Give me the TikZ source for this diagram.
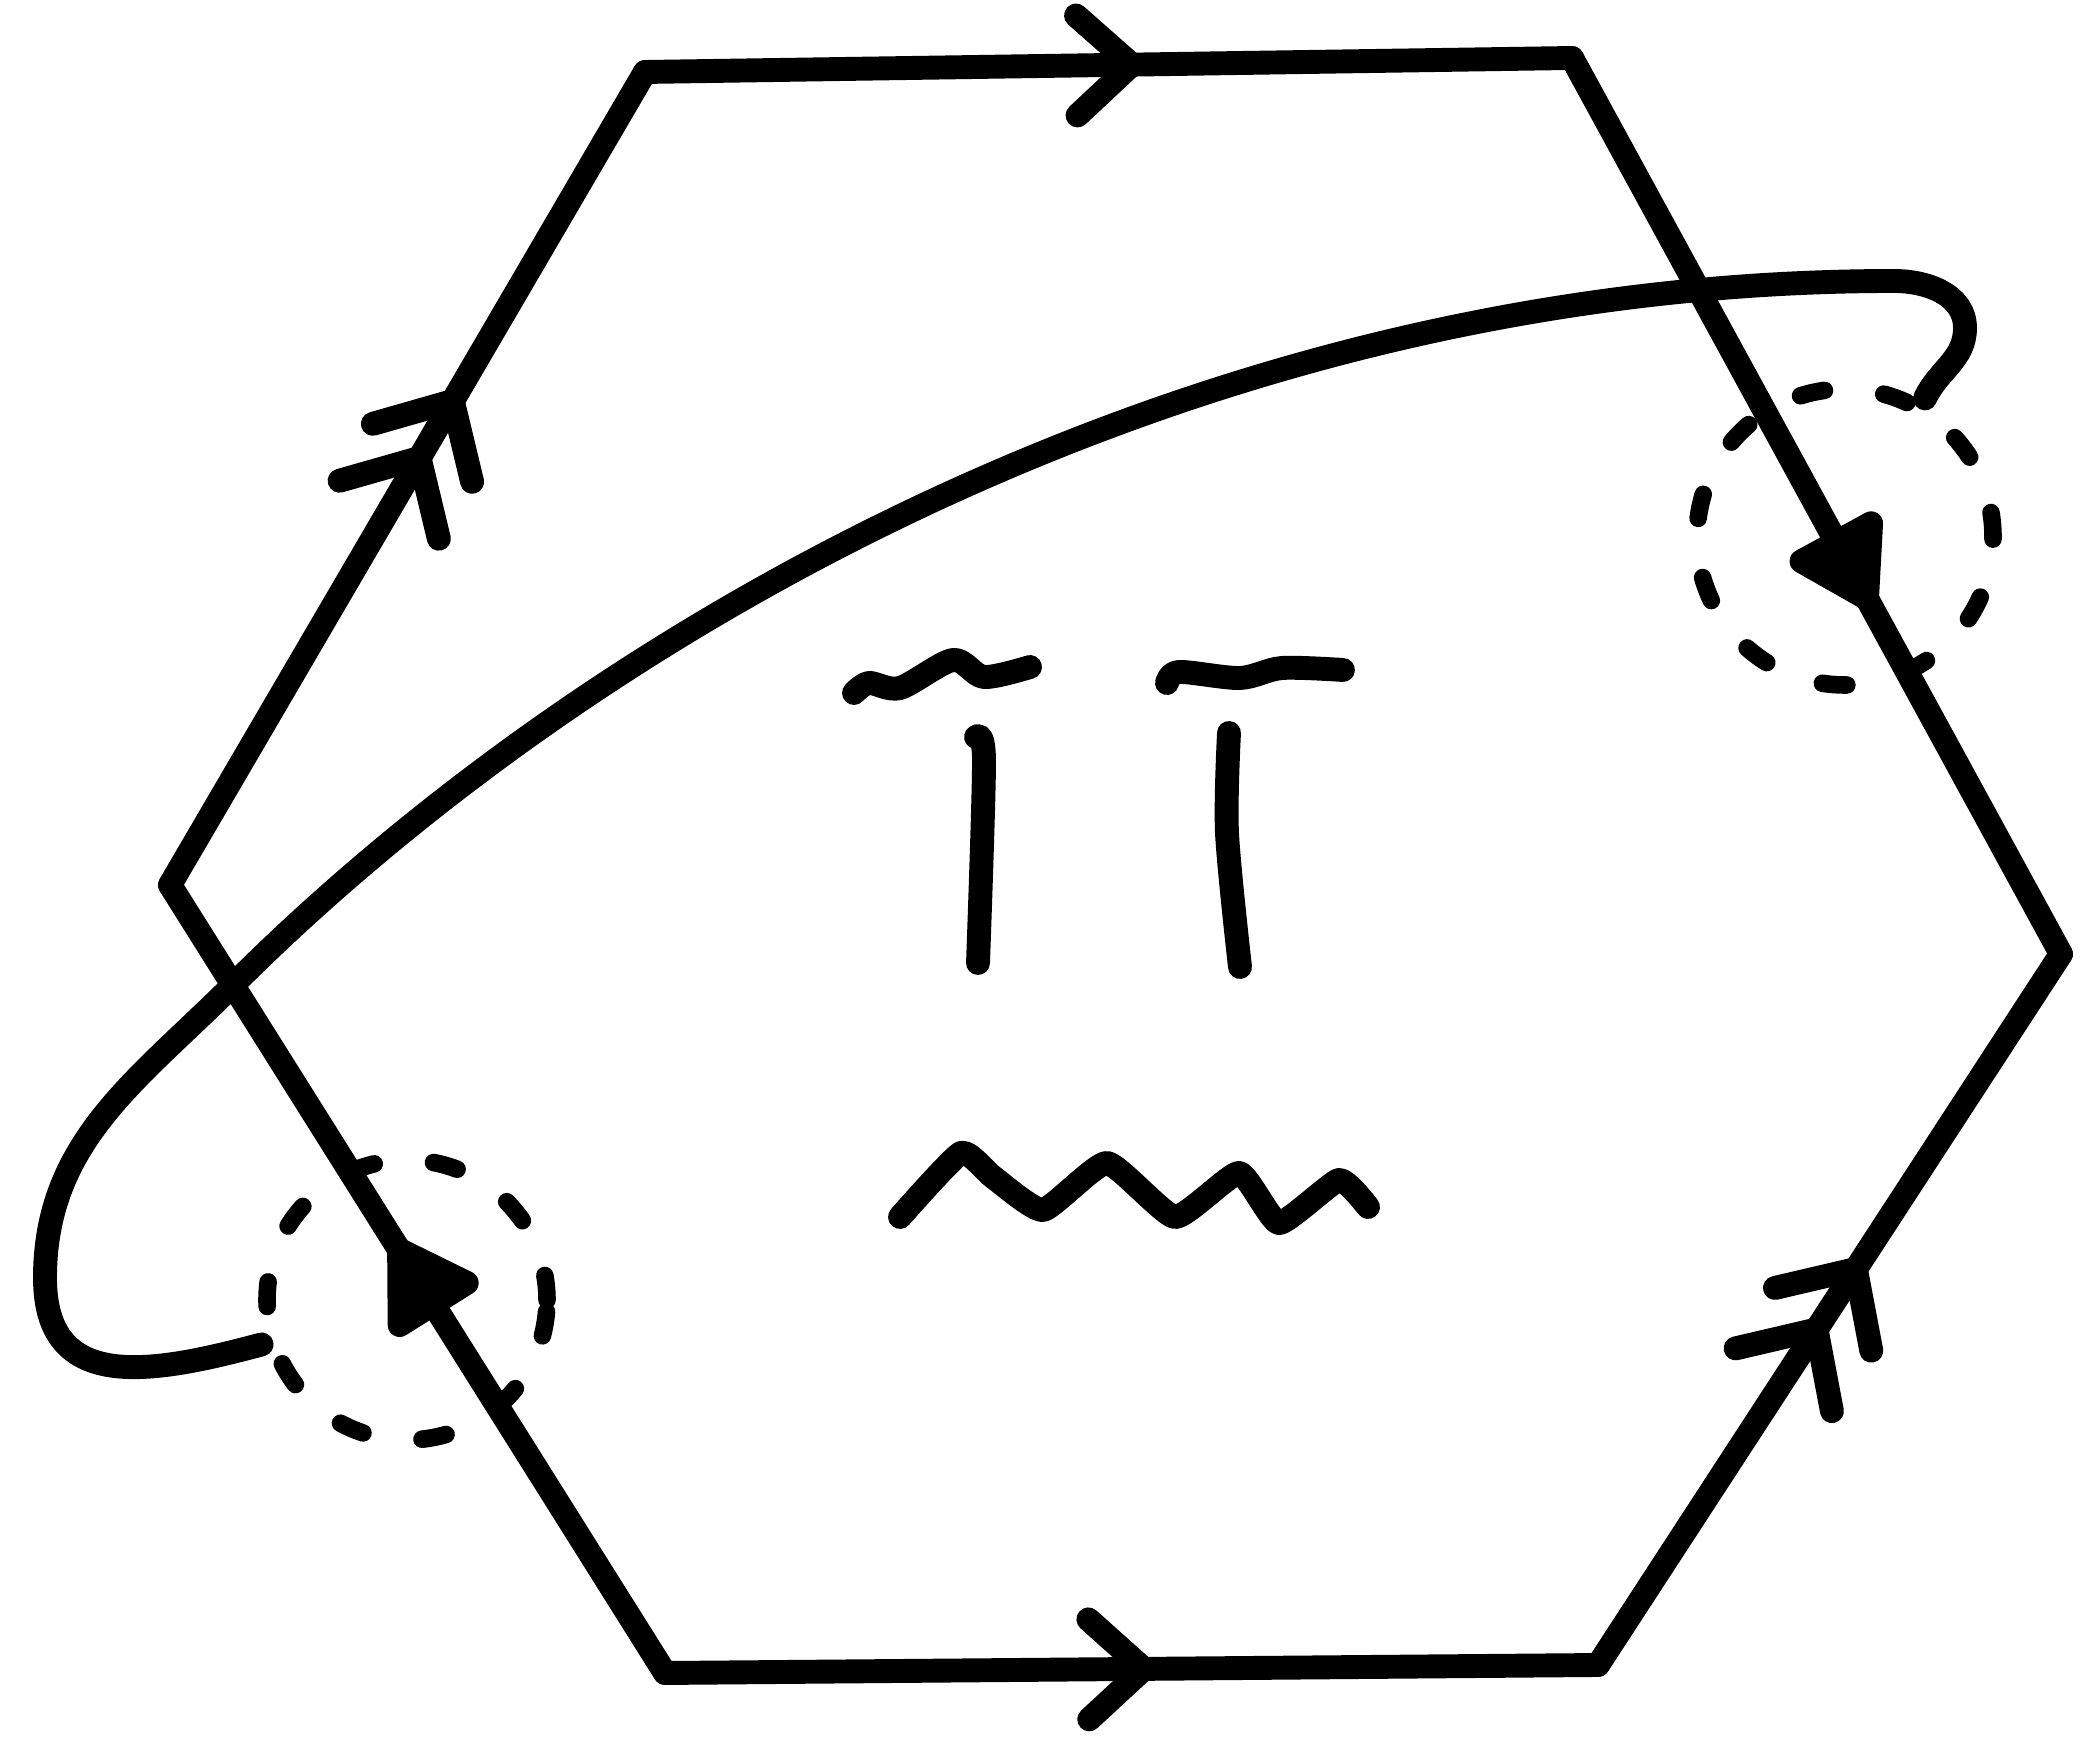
\documentclass[tikz,border=0pt]{standalone}
\usepackage{tikz}
\usetikzlibrary{arrows.meta, decorations.markings}

\begin{document}
\begin{tikzpicture}[line width=6.8pt, line cap=round, line join=round,
    vmark/.style={postaction={decorate, decoration={markings,
      mark=at position #1 with {\arrow{Straight Barb[length=5.5mm, width=10mm, round]}}}}},
    vvmark/.style 2 args={postaction={decorate, decoration={markings,
      mark=at position #1 with {\arrow{Straight Barb[length=6mm, width=11.5mm, round]}},
      mark=at position #2 with {\arrow{Straight Barb[length=6mm, width=11.5mm, round]}}}}},
    tmark/.style={postaction={decorate, decoration={markings,
      mark=at position #1 with {\arrow{Triangle[length=10mm, width=11.5mm, round]}}}}},
    puncture/.style={circle, draw, line width=5pt, dash pattern=on 7pt off 17pt,
      minimum size=#1, inner sep=0pt, outer sep=0.12cm}]
    \useasboundingbox (0,0) rectangle (20.92,17.63);

    % hexagon corners
    \coordinate (tl) at (6.45,16.91);
    \coordinate (tr) at (15.72,17.05);
    \coordinate (r) at (20.61,8.09);
    \coordinate (br) at (15.98,0.98);
    \coordinate (bl) at (6.65,0.90);
    \coordinate (l) at (1.70,8.78);

    % dashed circles
    \node[puncture=2.96cm] (q) at (18.45,12.26) {};
    \node[puncture=2.8cm] (p) at (4.07,4.63) {};

    % edges
    \draw[vvmark={0.608}{0.538}] (l) -- (tl);
    \draw[vmark=0.538] (tl) -- (tr);
    \draw[tmark=0.615] (tr) -- (r);
    \draw[vvmark={0.571}{0.486}] (br) -- (r);
    \draw[vmark=0.526] (bl) -- (br);
    \draw[tmark=0.55] (bl) -- (l);

    % loop
    \draw (p.197) to[out=195, in=-90, looseness=1.3] (0.45,4.85)
      to[out=90, in=225] (2.33,7.78)
      .. controls (5.87,11.32) and (11.94,14.82) .. (18.94,14.82)
      to[out=0, in=90] (19.65,14.35)
      to[out=-90, in=65] (q.60);

    % middle
    \draw plot[smooth] coordinates {(8.54,10.70) (8.69,10.80) (9.00,10.75) (9.53,11.03) (9.84,10.86) (10.30,10.96)};
    \draw plot[smooth] coordinates {(9.76,10.26) (9.84,10.03) (9.78,8.00)};
    \draw plot[smooth] coordinates {(11.67,10.80) (11.79,10.91) (12.40,10.85) (12.82,10.95) (13.43,10.93)};
    \draw plot[smooth] coordinates {(12.29,10.30) (12.27,9.30) (12.40,7.96)};
    \draw plot[smooth, tension=0.3] coordinates {(9.00,5.46) (9.61,6.10) (9.93,5.86) (10.43,5.53)
      (11.07,6.00) (11.75,5.46) (12.39,5.90) (12.79,5.40) (13.39,5.83) (13.68,5.56)};
\end{tikzpicture}
\end{document}
